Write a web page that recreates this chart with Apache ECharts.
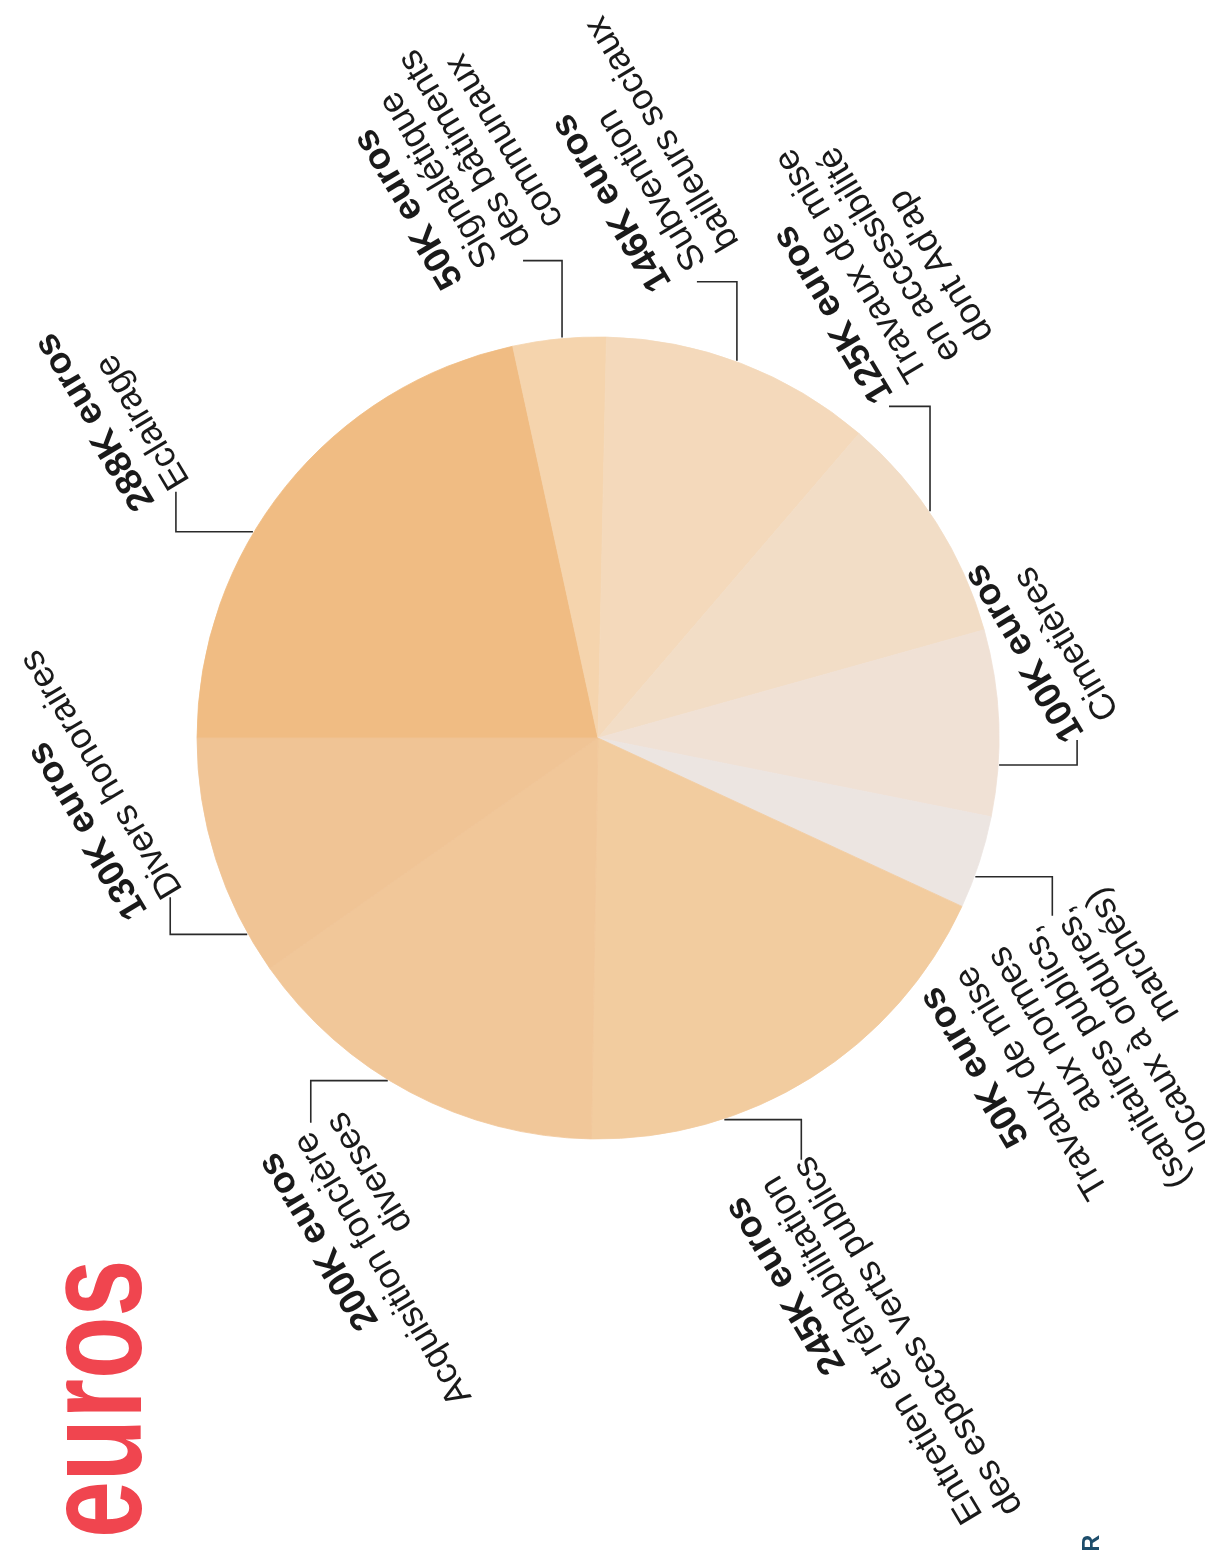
<!DOCTYPE html>
<html>
<head>
<meta charset="utf-8">
<script src="https://cdn.jsdelivr.net/npm/echarts@6/dist/echarts.min.js"></script>
<style>
  html, body { margin: 0; padding: 0; background: #ffffff; }
  #chart { width: 1205px; height: 1550px; }
</style>
</head>
<body>
<div id="chart"></div>
<script>
// Budget items (K euros), in clockwise order starting at 9 o'clock
const categories = [
  'Eclairage',
  'Signalétique\ndes bâtiments\ncommunaux',
  'Subvention\nbailleurs sociaux',
  'Travaux de mise\nen accessibilité\ndont Ad\'ap',
  'Cimetières',
  'Travaux de mise\naux normes\n(sanitaires publics,\nlocaux à ordures,\nmarchés)',
  'Entretien et réhabilitation\ndes espaces verts publics',
  'Acquisition foncière\ndiverses',
  'Divers honoraires'
];
const amountsK = [288, 50, 146, 125, 100, 50, 245, 200, 130];
const unitLabel = 'euros';
const titleWord = 'euros';

const sliceColors = ['#f0bc83', '#f5d4ad', '#f4d9bb', '#f2ddc6', '#f0e1d5', '#ece5e1', '#f2cc9f', '#f1c799', '#f0c495'];

// Pie geometry (pixels) and label angle
const CX = 598, CY = 738, R = 401;
const LABEL_ROT = 121;
const START_DEG = 270; // clockwise from 12 o'clock

// Leader line / label placement per slice
// shift: degrees from slice middle, leg: first segment axis, len1/len2: segment lengths,
// align: text alignment, dy: local offset of leader end from block top, gap: distance along text
const placement = [
  { shift: -8,   leg: 'h', len1: -77, len2: -40, align: 'left',  dy: 55,  gap: 2 },
  { shift: 0.4,  leg: 'v', len1: -77, len2: -39, align: 'left',  dy: 93,  gap: 14 },
  { shift: -0.7, leg: 'v', len1: -79, len2: -40, align: 'left',  dy: 54,  gap: 12 },
  { shift: -1.8, leg: 'v', len1: -105, len2: -41, align: 'left', dy: 22,  gap: 8 },
  { shift: 6,    leg: 'h', len1: 78,  len2: -25, align: 'left',  dy: 22,  gap: 2 },
  { shift: 2.1,  leg: 'h', len1: 77,  len2: 39,  align: 'right', dy: 166, gap: 0 },
  { shift: 13.8, leg: 'h', len1: 77,  len2: 40,  align: 'right', dy: 100, gap: 0 },
  { shift: 3.6,  leg: 'h', len1: -77, len2: 42,  align: 'right', dy: 76,  gap: 6 },
  { shift: -11.7,leg: 'h', len1: -77, len2: -37, align: 'left',  dy: 58,  gap: 0 }
];

const total = amountsK.reduce((a, b) => a + b, 0);
const cumulative = [];
amountsK.reduce((acc, v, i) => { cumulative[i] = acc; return acc + v; }, 0);

const textFont = '"Liberation Sans", Arial, Helvetica, sans-serif';

const seriesData = categories.map((name, i) => ({
  name: name,
  value: amountsK[i],
  itemStyle: { color: sliceColors[i], borderColor: sliceColors[i], borderWidth: 0.8 }
}));

function labelLayout(params) {
  const i = params.dataIndex;
  const p = placement[i];
  const mid = START_DEG + (cumulative[i] + amountsK[i] / 2) / total * 360;
  const th = (mid + p.shift) * Math.PI / 180;
  const ex = CX + (R + 1) * Math.sin(th);
  const ey = CY - (R + 1) * Math.cos(th);
  let bx, by, tx, ty;
  if (p.leg === 'h') { bx = ex + p.len1; by = ey; tx = bx; ty = by + p.len2; }
  else { bx = ex; by = ey + p.len1; tx = bx + p.len2; ty = by; }
  const a = LABEL_ROT * Math.PI / 180;
  const ux = Math.cos(a), uy = -Math.sin(a);
  const vx = Math.sin(a), vy = Math.cos(a);
  const s = p.align === 'left' ? 1 : -1;
  return {
    x: tx + s * ux * p.gap - vx * p.dy,
    y: ty + s * uy * p.gap - vy * p.dy,
    rotate: LABEL_ROT,
    align: p.align,
    verticalAlign: 'top',
    width: 520,
    labelLinePoints: [[ex, ey], [bx, by], [tx, ty]]
  };
}

const chart = echarts.init(document.getElementById('chart'), null, { renderer: 'canvas' });
chart.setOption({
  backgroundColor: '#ffffff',
  animation: false,
  series: [{
    type: 'pie',
    center: [CX, CY],
    radius: R,
    startAngle: 180,
    clockwise: true,
    avoidLabelOverlap: false,
    emphasis: { disabled: true },
    data: seriesData,
    label: {
      show: true,
      position: 'outside',
      overflow: 'none',
      formatter: (p) => {
        const lines = p.name.split('\n').map(t => '{n|' + t + '}');
        return ['{b|' + p.value + 'K ' + unitLabel + '}'].concat(lines).join('\n');
      },
      rich: {
        b: { fontFamily: textFont, fontWeight: 'bold', fontSize: 37, lineHeight: 44, color: '#1a1a1a' },
        n: { fontFamily: textFont, fontSize: 36, lineHeight: 38, color: '#1a1a1a' }
      }
    },
    labelLine: {
      show: true,
      lineStyle: { color: '#2a2a2a', width: 1.6 }
    },
    labelLayout: labelLayout
  }],
  graphic: [
    {
      type: 'text',
      x: 102, y: 1538,
      rotation: Math.PI / 2,
      scaleX: 0.73,
      style: {
        text: titleWord,
        font: 'bold 140px "Liberation Sans", Arial, sans-serif',
        fill: '#f0454f',
        align: 'left',
        verticalAlign: 'middle'
      }
    },
    {
      type: 'text',
      x: 1092, y: 1552,
      rotation: Math.PI / 2,
      style: {
        text: 'R',
        font: 'bold 24px "Liberation Sans", sans-serif',
        fill: '#1d4d6b',
        align: 'left',
        verticalAlign: 'middle'
      }
    }
  ]
});
</script>
</body>
</html>
